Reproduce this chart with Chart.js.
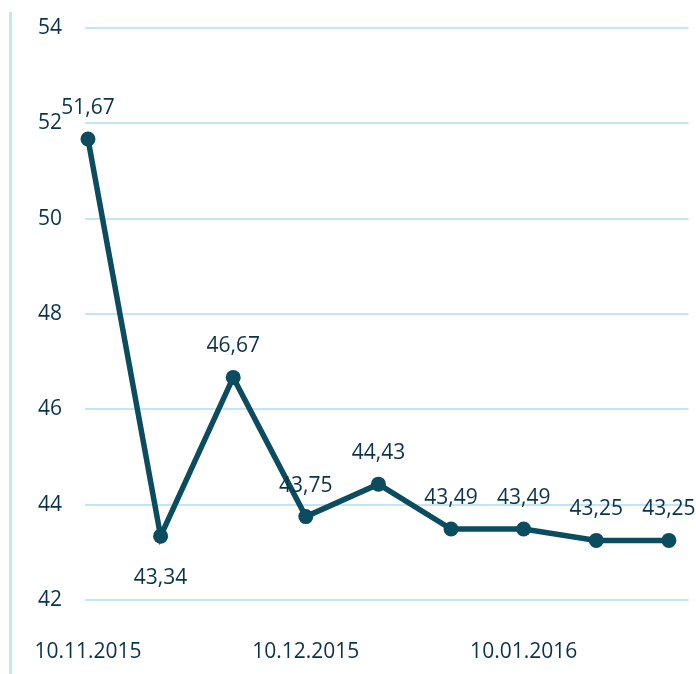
<!DOCTYPE html>
<html>
<head>
<meta charset="utf-8">
<script src="https://cdn.jsdelivr.net/npm/chart.js@4/dist/chart.umd.min.js"></script>
<style>
  html, body { margin: 0; padding: 0; background: #ffffff; }
  #wrap { position: relative; width: 696px; height: 674px; }
  #frame { position: absolute; left: 9px; top: 12px; width: 3px; bottom: 0; background: #c3e5f5; }
  canvas { display: block; }
</style>
</head>
<body>
<div id="wrap">
  <div id="frame"></div>
  <canvas id="priceChart" width="696" height="674"></canvas>
</div>
<script>
// データ
const dateLabels = ["10.11.2015", "", "", "10.12.2015", "", "", "10.01.2016", "", ""];
const priceValues = [51.67, 43.34, 46.67, 43.75, 44.43, 43.49, 43.49, 43.25, 43.25];
const yTicks = [42, 44, 46, 48, 50, 52, 54];

const lineColor = "#0b4c5e";
const textColor = "#0a3349";
const gridColor = "#c3e5f5";
const fontFamily = "'Open Sans', 'DejaVu Sans', sans-serif";

// 値ラベルを描くプラグイン（43,34 だけ点の下）
const labelsBelow = [1];
const valueLabelPlugin = {
  id: "valueLabels",
  afterDatasetsDraw(chart) {
    const ctx = chart.ctx;
    const meta = chart.getDatasetMeta(0);
    ctx.save();
    ctx.font = "21px " + fontFamily;
    ctx.fillStyle = textColor;
    ctx.textAlign = "center";
    ctx.textBaseline = "middle";
    meta.data.forEach(function (pt, i) {
      const text = priceValues[i].toFixed(2).replace(".", ",");
      const dy = labelsBelow.includes(i) ? 42 : -31;
      ctx.fillText(text, pt.x, pt.y + dy);
    });
    ctx.restore();
  },
};

const chartConfig = {
  type: "line",
  data: {
    datasets: [
      {
        data: priceValues.map(function (v, i) { return { x: i, y: v }; }),
        borderColor: lineColor,
        backgroundColor: lineColor,
        borderWidth: 5.5,
        pointRadius: 7.5,
        pointBackgroundColor: lineColor,
        pointBorderWidth: 0,
        tension: 0,
        clip: false,
      },
    ],
  },
  options: {
    responsive: false,
    animation: false,
    layout: { padding: { top: 28, right: 3, left: 0, bottom: 0 } },
    plugins: {
      legend: { display: false },
      tooltip: { enabled: false },
    },
    scales: {
      x: {
        type: "linear",
        min: -0.041,
        max: 8.27,
        afterBuildTicks: function (scale) {
          scale.ticks = [0, 3, 6].map(function (v) { return { value: v }; });
        },
        afterFit: function (scale) { scale.height = 74; },
        ticks: {
          padding: 31,
          color: textColor,
          font: { size: 21, family: fontFamily },
          maxRotation: 0,
          autoSkip: false,
          callback: function (v) { return dateLabels[v]; },
        },
        grid: { display: false },
        border: { display: false },
      },
      y: {
        min: 42,
        max: 54,
        afterBuildTicks: function (scale) {
          scale.ticks = yTicks.map(function (v) { return { value: v }; });
        },
        afterFit: function (scale) {
          scale.width = 85;
          scale.paddingTop = 0; // 目盛りpaddingが上の余白に足されるのを防ぐ
        },
        ticks: {
          padding: 23,
          color: textColor,
          font: { size: 21, family: fontFamily },
        },
        grid: { color: gridColor, lineWidth: 2, drawTicks: false },
        border: { display: false },
      },
    },
  },
  plugins: [valueLabelPlugin],
};

const priceChart = new Chart(document.getElementById("priceChart"), chartConfig);
</script>
</body>
</html>
